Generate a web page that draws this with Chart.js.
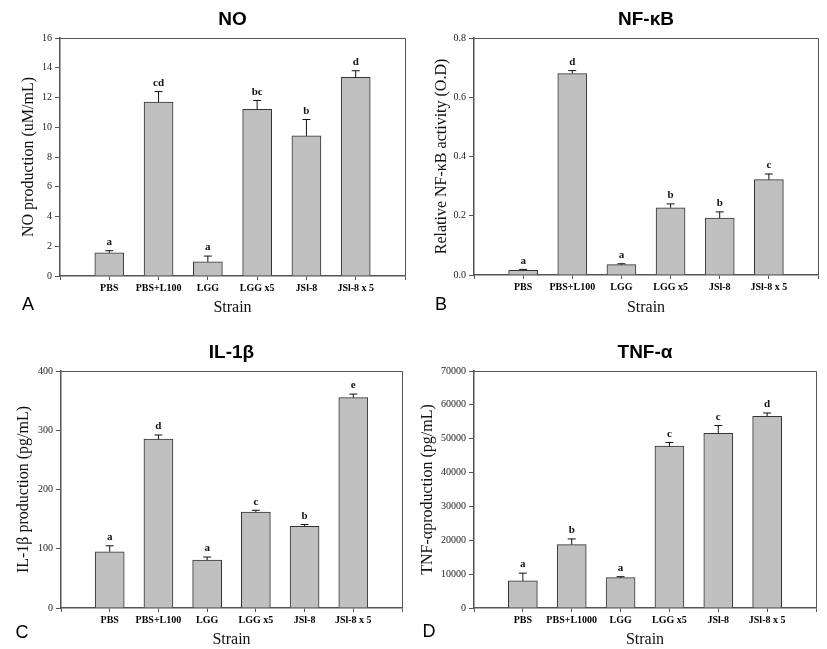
<!DOCTYPE html>
<html>
<head>
<meta charset="utf-8">
<script src="https://cdn.jsdelivr.net/npm/chart.js@4"></script>
<style>
  body { margin: 0; background: #fff; }
  .panel { position: absolute; }
</style>
</head>
<body>
<div class="panel" style="left:0;top:0;width:414px;height:320px"><canvas id="chartA"></canvas></div>
<div class="panel" style="left:414px;top:0;width:413px;height:320px"><canvas id="chartB"></canvas></div>
<div class="panel" style="left:0;top:320px;width:414px;height:329px"><canvas id="chartC"></canvas></div>
<div class="panel" style="left:414px;top:320px;width:413px;height:329px"><canvas id="chartD"></canvas></div>
<script>
const strains = ['PBS', 'PBS+L100', 'LGG', 'LGG x5', 'JSl-8', 'JSl-8 x 5']
const strainsTnf = ['PBS', 'PBS+L1000', 'LGG', 'LGG x5', 'JSl-8', 'JSl-8 x 5']

const noValues = [1.55, 11.7, 0.96, 11.2, 9.42, 13.35]
const noErrors = [0.15, 0.7, 0.38, 0.6, 1.1, 0.45]
const noLetters = ['a', 'cd', 'a', 'bc', 'b', 'd']

const nfkbValues = [0.016, 0.68, 0.035, 0.227, 0.192, 0.322]
const nfkbErrors = [0.003, 0.01, 0.003, 0.013, 0.021, 0.019]
const nfkbLetters = ['a', 'd', 'a', 'b', 'b', 'c']

const il1bValues = [95, 285, 81, 162, 138, 355]
const il1bErrors = [10, 7, 5, 3, 3, 6]
const il1bLetters = ['a', 'd', 'a', 'c', 'b', 'e']

const tnfValues = [8000, 18700, 8950, 47800, 51600, 56600]
const tnfErrors = [2300, 1700, 300, 1100, 2300, 1000]
const tnfLetters = ['a', 'b', 'a', 'c', 'c', 'd']

const barFill = '#c0c0c0'
const barEdge = '#333333'
const axisColor = '#555555'

// error whiskers + significance letters, drawn from the y scale
const errorBars = {
  id: 'errorBars',
  afterDatasetsDraw(chart) {
    const {ctx, scales: {y}} = chart
    const ds = chart.data.datasets[0]
    const meta = chart.getDatasetMeta(0)
    ctx.save()
    ctx.strokeStyle = '#111'
    ctx.lineWidth = 1
    ds.data.forEach((v, i) => {
      if (v == null) return
      const bar = meta.data[i]
      const top = y.getPixelForValue(v + ds.errors[i])
      ctx.beginPath()
      ctx.moveTo(bar.x, bar.y)
      ctx.lineTo(bar.x, top)
      ctx.moveTo(bar.x - 4, top)
      ctx.lineTo(bar.x + 4, top)
      ctx.stroke()
      ctx.fillStyle = '#111'
      ctx.font = 'bold 11px "Liberation Serif"'
      ctx.textAlign = 'center'
      ctx.textBaseline = 'bottom'
      ctx.fillText(ds.letters[i], bar.x, top - 3)
    })
    ctx.restore()
  }
}

// top/right frame, panel heading and panel letter
const frame = {
  id: 'frame',
  afterDraw(chart, args, opts) {
    const {ctx, chartArea: a} = chart
    ctx.save()
    ctx.strokeStyle = axisColor
    ctx.lineWidth = 1
    ctx.beginPath()
    ctx.moveTo(a.left, a.top + 0.5)
    ctx.lineTo(a.right + 0.5, a.top + 0.5)
    ctx.lineTo(a.right + 0.5, a.bottom)
    ctx.stroke()
    ctx.fillStyle = '#000'
    ctx.textAlign = 'center'
    ctx.textBaseline = 'middle'
    ctx.font = 'bold 19px "Liberation Sans"'
    ctx.fillText(opts.heading, (a.left + a.right) / 2, opts.headingY)
    ctx.font = '18px "Liberation Sans"'
    ctx.fillText(opts.letter, opts.letterX, opts.letterY)
    ctx.restore()
  }
}

function makePanel(id, cats, values, errors, letters, p) {
  new Chart(document.getElementById(id), {
    type: 'bar',
    data: {
      labels: ['', ...cats, ''],
      datasets: [{
        data: [null, ...values, null],
        errors: [0, ...errors, 0],
        letters: ['', ...letters, ''],
        backgroundColor: barFill,
        borderColor: barEdge,
        borderWidth: 1,
        barThickness: 29
      }]
    },
    options: {
      responsive: true,
      maintainAspectRatio: false,
      animation: false,
      layout: {padding: {top: p.top, right: p.right, left: 0, bottom: 0}},
      plugins: {
        legend: {display: false},
        tooltip: {enabled: false},
        frame: {heading: p.heading, headingY: p.headingY, letter: p.letter, letterX: p.letterX, letterY: p.letterY}
      },
      scales: {
        x: {
          offset: false,
          grid: {offset: false, drawOnChartArea: false, drawTicks: true, tickLength: 4, color: axisColor},
          border: {color: axisColor, width: 1.5},
          ticks: {color: '#000', font: {family: 'Liberation Serif', size: 10, weight: 'bold'}, padding: 2, maxRotation: 0, autoSkip: false},
          title: {display: true, text: 'Strain', color: '#111', font: {family: 'Liberation Serif', size: 16}, padding: {top: 0, bottom: p.xTitlePad}},
          afterFit: s => { s.height = p.xHeight }
        },
        y: {
          min: 0,
          max: p.max,
          grid: {drawOnChartArea: false, drawTicks: true, tickLength: 5, color: axisColor},
          border: {color: axisColor, width: 1.5},
          ticks: {stepSize: p.step, color: '#222', font: {family: 'Liberation Serif', size: 10}, padding: 3,
            callback: v => p.fmt ? v.toFixed(1) : v},
          title: {display: true, text: p.yTitle, color: '#111', font: {family: 'Liberation Serif', size: 16}, padding: {top: p.yTitlePad, bottom: 0}},
          afterFit: s => { s.width = p.yWidth }
        }
      }
    },
    plugins: [errorBars, frame]
  })
}

makePanel('chartA', strains, noValues, noErrors, noLetters, {
  heading: 'NO', headingY: 20, letter: 'A', letterX: 28, letterY: 305,
  top: 38, right: 9, xHeight: 44, xTitlePad: 3, yWidth: 60, yTitlePad: 19,
  max: 16, step: 2, yTitle: 'NO production (uM/mL)'
})
makePanel('chartB', strains, nfkbValues, nfkbErrors, nfkbLetters, {
  heading: 'NF-\u03baB', headingY: 20, letter: 'B', letterX: 27, letterY: 305,
  top: 38, right: 9, xHeight: 45, xTitlePad: 3, yWidth: 60, yTitlePad: 18,
  max: 0.8, step: 0.2, fmt: true, yTitle: 'Relative NF-\u03baB activity (O.D)'
})
makePanel('chartC', strains, il1bValues, il1bErrors, il1bLetters, {
  heading: 'IL-1\u03b2', headingY: 33, letter: 'C', letterX: 22, letterY: 313,
  top: 51, right: 12, xHeight: 41, xTitlePad: 0, yWidth: 61, yTitlePad: 14,
  max: 400, step: 100, yTitle: 'IL-1\u03b2 production (pg/mL)'
})
makePanel('chartD', strainsTnf, tnfValues, tnfErrors, tnfLetters, {
  heading: 'TNF-\u03b1', headingY: 33, letter: 'D', letterX: 15, letterY: 312,
  top: 51, right: 11, xHeight: 41, xTitlePad: 0, yWidth: 60, yTitlePad: 4,
  max: 70000, step: 10000, yTitle: 'TNF-\u03b1production (pg/mL)'
})
</script>
</body>
</html>
